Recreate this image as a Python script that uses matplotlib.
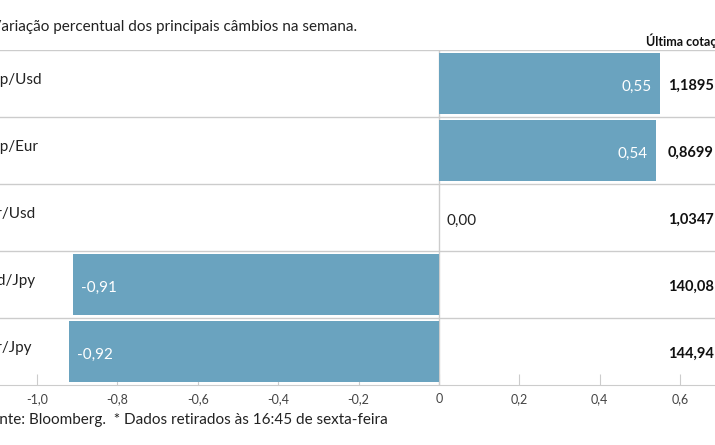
import matplotlib
matplotlib.use("Agg")
import matplotlib.pyplot as plt

pairs = ["Gbp/Usd", "Gbp/Eur", "Eur/Usd", "Usd/Jpy", "Eur/Jpy"]
changes = [0.55, 0.54, 0.00, -0.91, -0.92]
last_quote = ["1,1895", "0,8699", "1,0347", "140,08", "144,94"]
ticks = [-1.0, -0.8, -0.6, -0.4, -0.2, 0, 0.2, 0.4, 0.6]
tick_labels = ["-1,0", "-0,8", "-0,6", "-0,4", "-0,2", "0", "0,2", "0,4", "0,6"]

plt.rcParams["font.family"] = ["Lato", "DejaVu Sans"]
W, H = 715, 445
fig = plt.figure(figsize=(W/100, H/100), dpi=100)
top, bot = 50, 385
ax = fig.add_axes([0, (H-bot)/H, 1, (bot-top)/H])
ax.set_xlim(-1.092, 0.687)
n = len(pairs)
ax.set_ylim(n, 0)
color = "#6aa3bf"
for i, v in enumerate(changes):
    ax.barh(i + 0.5, v, height=0.9, color=color, zorder=2)
    txt = f"{v:.2f}".replace(".", ",")
    if v > 0:
        ax.text(v - 0.02, i + 0.55, txt, ha="right", va="center", color="white", fontsize=11)
    elif v < 0:
        ax.text(v + 0.02, i + 0.55, txt, ha="left", va="center", color="white", fontsize=11)
    else:
        ax.text(0.02, i + 0.55, txt, ha="left", va="center", color="#222222", fontsize=11)
    ax.axhline(i, color="#cccccc", lw=1, zorder=1)
    fig.text(-20/W, 1 - (top + 67*i + 30)/H, pairs[i], ha="left", va="center", fontsize=11, color="#222222")
    fig.text(668/W, 1 - (top + 67*i + 36)/H, last_quote[i], ha="left", va="center", fontsize=10.5, fontweight="bold", color="#111111")
ax.axvline(0, color="#cccccc", lw=1, zorder=1)
for s in ["top", "right", "left"]:
    ax.spines[s].set_visible(False)
ax.spines["bottom"].set_color("#cccccc")
ax.set_yticks([])
ax.set_xticks(ticks)
ax.set_xticklabels(tick_labels, fontsize=9, color="#444444")
ax.tick_params(axis="x", direction="in", length=8, color="#cccccc", pad=6)
fig.text(-9/W, 1 - 27/H, "Variação percentual dos principais câmbios na semana.", ha="left", va="center", fontsize=11, color="#222222")
fig.text(646/W, 1 - 41/H, "Última cotação*", ha="left", va="center", fontsize=9, fontweight="bold", color="#111111")
fig.text(-18/W, 1 - 420/H, "Fonte: Bloomberg.  * Dados retirados às 16:45 de sexta-feira", ha="left", va="center", fontsize=11, color="#222222")
fig.savefig("out.png", dpi=100, facecolor="white")
